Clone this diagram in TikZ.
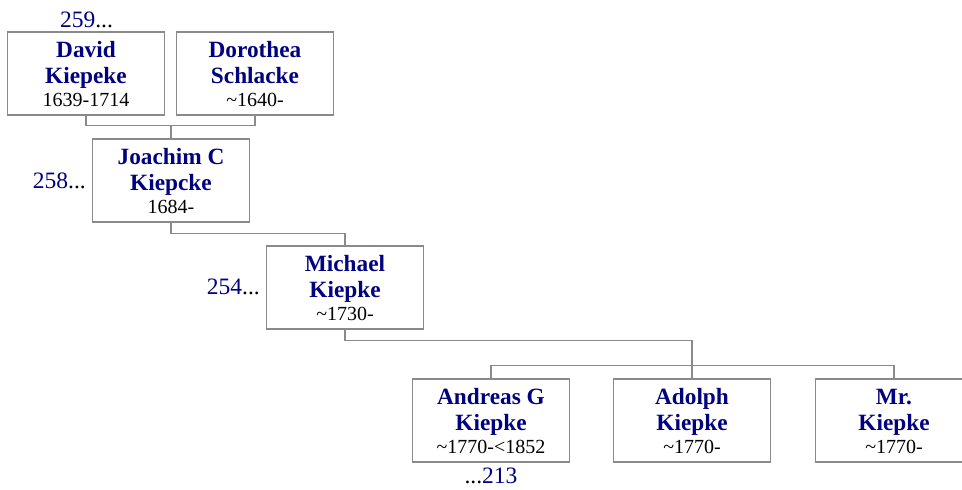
\documentclass[tikz,border=0pt]{standalone}
\usepackage{fontspec}
\setmainfont{Liberation Serif}
\definecolor{navyc}{HTML}{000080}
\definecolor{linec}{HTML}{8A8A8A}
\tikzset{
  pbox/.style={draw=linec, line width=1.3pt, minimum width=157pt, minimum height=83pt, inner sep=0pt, fill=white},
  nm/.style={font=\fontsize{23.3}{27}\selectfont\bfseries, text=navyc, inner sep=0pt, anchor=base},
  dt/.style={font=\fontsize{20}{24}\selectfont, text=black, inner sep=0pt, anchor=base},
  num/.style={font=\fontsize{23.5}{28}\selectfont, text=navyc, inner sep=0pt},
  conn/.style={draw=linec, line width=1.3pt},
}
\newcommand\personbox[6]{%
  \node[pbox] (#1) at (#2,#3+41.5) {};
  \node[nm] (#1-a) at (#2,#3+25) {#4};
  \node[nm] (#1-b) at (#2,#3+51) {#5};
  \node[dt] (#1-c) at (#2,#3+74.5) {#6};
}
\begin{document}
\begin{tikzpicture}[x=1pt,y=-1pt]
\useasboundingbox (0,0) rectangle (962,490);
\fill[white] (0,0) rectangle (962,490);
\personbox{david}{86}{32}{David}{Kiepeke}{1639-1714}
\personbox{dorothea}{255}{32}{Dorothea}{Schlacke}{\textasciitilde1640-}
\personbox{joachim}{171}{139}{Joachim C}{Kiepcke}{1684-}
\personbox{michael}{345}{246}{Michael}{Kiepke}{\textasciitilde1730-}
\personbox{andreas}{491}{379}{Andreas G}{Kiepke}{\textasciitilde1770-<1852}
\personbox{adolph}{692}{379}{Adolph}{Kiepke}{\textasciitilde1770-}
\personbox{mr}{894}{379}{Mr.}{Kiepke}{\textasciitilde1770-}
% connectors
\draw[conn] (david.south) -- ++(0,10) -| (dorothea.south);
\draw[conn] (joachim.north) -- ++(0,-13);
\draw[conn] (joachim.south) -- ++(0,11) -| (michael.north);
\draw[conn] (michael.south) -- ++(0,11) -| (adolph.north);
\draw[conn] (andreas.north) -- ++(0,-13) -| (mr.north);
% reference numbers
\node[num, anchor=base] (n259) at (86.5,27.5) {259{\color{black}...}};
\node[num, anchor=base east] (n258) at (86,188.5) {258{\color{black}...}};
\node[num, anchor=base east] (n254) at (260,294) {254{\color{black}...}};
\node[num, anchor=base] (n213) at (491,483) {{\color{black}...}213};
\end{tikzpicture}
\end{document}
